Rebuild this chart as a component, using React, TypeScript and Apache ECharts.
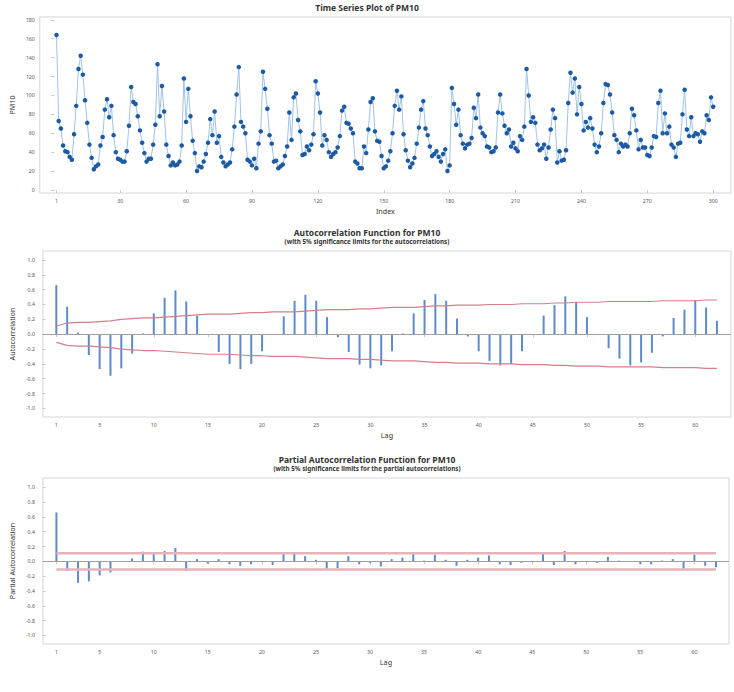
import { useEffect, useRef } from "react";
import * as echarts from "echarts";

// Time series of PM10 (index 1..300)
const pm10 = [
  164, 73, 65, 47, 41, 40, 35, 32, 59, 89, 128, 142, 122, 95, 71, 48, 34, 22, 25, 27,
  47, 56, 85, 96, 77, 89, 58, 40, 33, 32, 30, 30, 41, 68, 109, 93, 91, 78, 63, 50,
  39, 30, 33, 33, 48, 69, 133, 78, 110, 83, 48, 36, 26, 29, 26, 27, 30, 47, 118, 72,
  107, 78, 52, 39, 20, 25, 24, 30, 38, 50, 75, 58, 83, 50, 57, 35, 29, 25, 27, 29,
  43, 67, 101, 130, 72, 67, 60, 32, 30, 26, 33, 23, 49, 62, 125, 107, 86, 58, 49, 30,
  31, 23, 25, 27, 36, 46, 82, 53, 98, 102, 74, 62, 37, 38, 46, 42, 48, 59, 115, 102,
  82, 47, 58, 53, 40, 35, 38, 40, 45, 57, 84, 88, 71, 70, 65, 60, 30, 28, 23, 23,
  46, 39, 64, 93, 97, 62, 52, 51, 36, 23, 25, 31, 41, 60, 89, 105, 85, 99, 59, 42,
  31, 24, 28, 34, 49, 66, 85, 94, 65, 58, 46, 36, 38, 41, 35, 30, 38, 43, 20, 26,
  108, 91, 69, 85, 58, 49, 44, 48, 49, 55, 87, 76, 101, 66, 60, 57, 46, 45, 40, 41,
  45, 82, 101, 81, 68, 60, 64, 46, 50, 44, 41, 57, 53, 67, 128, 100, 72, 77, 71, 48,
  42, 44, 48, 33, 45, 64, 85, 76, 29, 41, 31, 32, 42, 92, 124, 103, 118, 80, 109, 91,
  63, 72, 66, 76, 65, 48, 40, 46, 60, 92, 112, 111, 101, 82, 58, 53, 40, 49, 46, 48,
  46, 60, 86, 79, 63, 43, 53, 45, 45, 37, 36, 45, 57, 56, 92, 105, 60, 81, 60, 67,
  48, 45, 35, 49, 50, 80, 106, 64, 57, 77, 57, 60, 59, 51, 62, 60, 79, 74, 98, 88,
];

// Autocorrelations, lags 1..62
const acf = [
  0.66, 0.37, 0.02, -0.28, -0.47, -0.56, -0.46, -0.26, 0.01, 0.28,
  0.49, 0.59, 0.44, 0.25, -0.01, -0.24, -0.40, -0.47, -0.40, -0.23,
  -0.01, 0.24, 0.45, 0.53, 0.45, 0.23, -0.04, -0.24, -0.41, -0.46,
  -0.42, -0.23, 0.01, 0.28, 0.46, 0.54, 0.45, 0.21, -0.03, -0.23,
  -0.36, -0.42, -0.40, -0.23, -0.01, 0.25, 0.39, 0.51, 0.43, 0.23,
  0.0, -0.19, -0.33, -0.42, -0.38, -0.25, -0.03, 0.22, 0.33, 0.46,
  0.36, 0.18,
];

// 5% significance limits for autocorrelations (upper; lower is mirrored)
const acfLimit = [
  0.11, 0.15, 0.16, 0.16, 0.17, 0.18, 0.2, 0.21, 0.22, 0.22,
  0.23, 0.24, 0.25, 0.26, 0.27, 0.27, 0.27, 0.28, 0.29, 0.29,
  0.3, 0.3, 0.3, 0.31, 0.32, 0.33, 0.33, 0.33, 0.34, 0.34,
  0.35, 0.36, 0.36, 0.36, 0.37, 0.38, 0.38, 0.39, 0.39, 0.39,
  0.4, 0.4, 0.4, 0.41, 0.41, 0.41, 0.42, 0.42, 0.43, 0.43,
  0.43, 0.44, 0.44, 0.44, 0.44, 0.44, 0.45, 0.45, 0.45, 0.45,
  0.46, 0.46,
];

// Partial autocorrelations, lags 1..62
const pacf = [
  0.66, -0.13, -0.29, -0.27, -0.19, -0.15, 0.0, 0.04, 0.13, 0.11,
  0.14, 0.18, -0.13, 0.03, -0.03, 0.03, -0.04, -0.06, -0.04, -0.01,
  -0.05, 0.12, 0.12, 0.07, 0.02, -0.1, -0.09, 0.07, -0.04, -0.02,
  -0.07, 0.03, 0.05, 0.11, 0.01, 0.09, 0.02, -0.06, 0.02, 0.05,
  0.08, -0.04, -0.05, -0.02, -0.01, 0.11, -0.05, 0.14, -0.04, 0.005,
  -0.02, 0.06, 0.01, 0.0, -0.04, -0.04, 0.01, 0.03, -0.11, 0.09,
  -0.06, -0.08,
];
const pacfLimit = 0.11;

const indexTicks = [1, 30, 60, 90, 120, 150, 180, 210, 240, 270, 300];
const lagTicks = [1, 5, 10, 15, 20, 25, 30, 35, 40, 45, 50, 55, 60];
const pmTicks = [0, 20, 40, 60, 80, 100, 120, 140, 160, 180];
const corrTicks = [-1.0, -0.8, -0.6, -0.4, -0.2, 0, 0.2, 0.4, 0.6, 0.8, 1.0];

const FONT = "'Noto Sans', 'Open Sans', sans-serif";
const TICK_COLOR = "#c8c8c8";
const LABEL_COLOR = "#555";

function xAxis(gridIndex: number, min: number, max: number, ticks: number[], name: string) {
  return {
    type: "value",
    gridIndex,
    min,
    max,
    name,
    nameLocation: "middle",
    nameGap: 14,
    nameTextStyle: { fontFamily: FONT, fontSize: 7.2, color: "#333" },
    axisLine: { show: false },
    axisTick: { show: true, length: 3, customValues: ticks, lineStyle: { color: TICK_COLOR } },
    axisLabel: {
      customValues: ticks,
      fontFamily: FONT,
      fontSize: 5.2,
      color: LABEL_COLOR,
      margin: 5,
    },
    splitLine: { show: false },
  };
}

function yAxis(
  gridIndex: number,
  min: number,
  max: number,
  ticks: number[],
  name: string,
  nameGap: number,
  decimals: number,
  margin: number
) {
  return {
    type: "value",
    gridIndex,
    min,
    max,
    name,
    nameLocation: "middle",
    nameGap,
    nameTextStyle: { fontFamily: FONT, fontSize: 7.2, color: "#333" },
    axisLine: { show: false },
    axisTick: { show: true, length: 3, customValues: ticks, lineStyle: { color: TICK_COLOR } },
    axisLabel: {
      customValues: ticks,
      fontFamily: FONT,
      fontSize: 5.2,
      color: LABEL_COLOR,
      margin,
      formatter: (v: number) => (decimals ? v.toFixed(decimals) : String(Math.round(v))),
    },
    splitLine: { show: false },
  };
}

const titleStyle = { fontFamily: FONT, fontSize: 8.5, fontWeight: "bold", color: "#333", lineHeight: 9.5 };
const subStyle = { fontFamily: FONT, fontSize: 6.3, fontWeight: "bold", color: "#333", lineHeight: 7.5 };

export default function App() {
  const ref = useRef<HTMLDivElement>(null);
  useEffect(() => {
    const chart = echarts.init(ref.current!, null, { renderer: "svg" });
    const seriesData = pm10.map((v, i) => [i + 1, v]);
    const acfData = acf.map((v, i) => [i + 1, v]);
    const acfUp = acfLimit.map((v, i) => [i + 1, v]);
    const acfLo = acfLimit.map((v, i) => [i + 1, -v]);
    const pacfData = pacf.map((v, i) => [i + 1, v]);
    const lastLag = pacf.length;
    const zeroLine = {
      silent: true,
      symbol: "none",
      label: { show: false },
      lineStyle: { color: "#a0a0a0", width: 1, type: "solid" },
      data: [{ yAxis: 0 }],
    };
    const gridBase = { show: true, borderColor: "#d6d6d6", borderWidth: 1, backgroundColor: "#fff" };

    chart.setOption({
      animation: false,
      backgroundColor: "#fff",
      title: [
        { text: "Time Series Plot of PM10", left: "center", top: 2.5, padding: 0, textStyle: titleStyle },
        { text: "Autocorrelation Function for PM10", left: "center", top: 227.3, padding: 0, textStyle: titleStyle },
        {
          text: "(with 5% significance limits for the autocorrelations)",
          left: "center",
          top: 237.6,
          padding: 0,
          textStyle: subStyle,
        },
        { text: "Partial Autocorrelation Function for PM10", left: "center", top: 454.3, padding: 0, textStyle: titleStyle },
        {
          text: "(with 5% significance limits for the partial autocorrelations)",
          left: "center",
          top: 464.6,
          padding: 0,
          textStyle: subStyle,
        },
      ],
      grid: [
        { ...gridBase, left: 30, top: 17, width: 701, height: 176 },
        { ...gridBase, left: 32, top: 251, width: 699, height: 166 },
        { ...gridBase, left: 32, top: 478, width: 697, height: 166 },
      ],
      xAxis: [
        xAxis(0, -6.6, 308.1, indexTicks, "Index"),
        xAxis(1, -0.24, 63.3, lagTicks, "Lag"),
        xAxis(2, -0.25, 63.2, lagTicks, "Lag"),
      ],
      yAxis: [
        yAxis(0, -3.2, 183, pmTicks, "PM10", 19, 0, 5),
        yAxis(1, -1.115, 1.12, corrTicks, "Autocorrelation", 21, 1, 8),
        yAxis(2, -1.116, 1.125, corrTicks, "Partial Autocorrelation", 21, 1, 8),
      ],
      series: [
        {
          type: "line",
          xAxisIndex: 0,
          yAxisIndex: 0,
          data: seriesData,
          symbol: "circle",
          symbolSize: 4.5,
          showSymbol: true,
          lineStyle: { color: "#9fc3e8", width: 1 },
          itemStyle: { color: "#1c5aa3", borderWidth: 0 },
        },
        {
          type: "bar",
          xAxisIndex: 1,
          yAxisIndex: 1,
          data: acfData,
          barWidth: 2,
          itemStyle: { color: "#5d8cc9" },
          markLine: zeroLine,
        },
        {
          type: "line",
          xAxisIndex: 1,
          yAxisIndex: 1,
          data: acfUp,
          symbol: "none",
          lineStyle: { color: "#d47f88", width: 1.2 },
        },
        {
          type: "line",
          xAxisIndex: 1,
          yAxisIndex: 1,
          data: acfLo,
          symbol: "none",
          lineStyle: { color: "#d47f88", width: 1.2 },
        },
        {
          type: "bar",
          xAxisIndex: 2,
          yAxisIndex: 2,
          data: pacfData,
          barWidth: 2,
          itemStyle: { color: "#5d8cc9" },
          markLine: zeroLine,
        },
        {
          type: "line",
          xAxisIndex: 2,
          yAxisIndex: 2,
          data: [
            [1, pacfLimit],
            [lastLag, pacfLimit],
          ],
          symbol: "none",
          lineStyle: { color: "#e6b3b8", width: 2.5 },
        },
        {
          type: "line",
          xAxisIndex: 2,
          yAxisIndex: 2,
          data: [
            [1, -pacfLimit],
            [lastLag, -pacfLimit],
          ],
          symbol: "none",
          lineStyle: { color: "#e6b3b8", width: 2.5 },
        },
      ],
    });
    return () => chart.dispose();
  }, []);
  return (
    <div
      ref={ref}
      style={{ position: "absolute", left: 0, top: 0, width: 734, height: 692, background: "#fff" }}
    />
  );
}
